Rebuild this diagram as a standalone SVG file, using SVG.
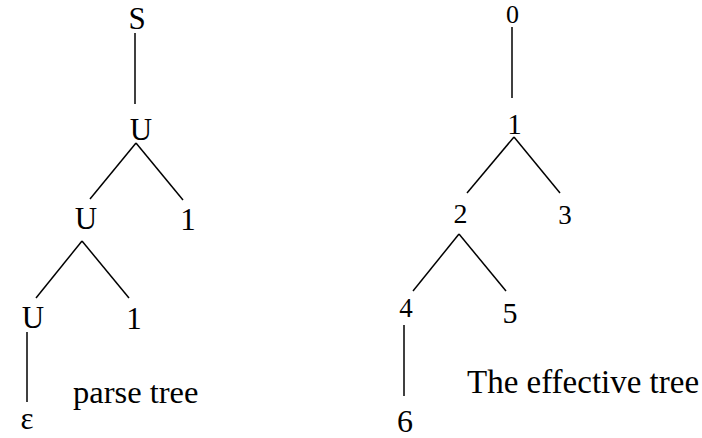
<svg xmlns="http://www.w3.org/2000/svg" width="702" height="438" viewBox="0 0 702 438">
<style>
text{font-family:"Liberation Serif","Times New Roman",Times,serif;fill:#000;}
.n{text-anchor:middle;font-size:31px;}
.d{text-anchor:middle;}
.lbl{font-size:32.5px;}
.e{stroke:#000;stroke-width:1.5;fill:none;}
</style>
<rect width="702" height="438" fill="#fff"/>
<g id="connectors">
<line class="e" x1="135" y1="33" x2="135" y2="104"/>
<line class="e" x1="136" y1="143" x2="90" y2="199"/>
<line class="e" x1="136" y1="143" x2="183" y2="200"/>
<line class="e" x1="82" y1="241" x2="36" y2="298"/>
<line class="e" x1="82" y1="241" x2="129" y2="298"/>
<line class="e" x1="27" y1="332" x2="27" y2="402"/>
<line class="e" x1="512" y1="27" x2="512" y2="98"/>
<line class="e" x1="514" y1="137" x2="467" y2="193"/>
<line class="e" x1="514" y1="137" x2="560" y2="193"/>
<line class="e" x1="459" y1="234" x2="413" y2="291"/>
<line class="e" x1="459" y1="234" x2="506" y2="291"/>
<line class="e" x1="404" y1="325" x2="404" y2="396"/>
</g>
<g id="S"><text class="n" x="137" y="29">S</text></g>
<g id="U1"><text class="n" x="141" y="140">U</text></g>
<g id="U2"><text class="n" x="86" y="229">U</text></g>
<g id="one1"><text class="n" x="188" y="230">1</text></g>
<g id="U3"><text class="n" x="33" y="328">U</text></g>
<g id="one2"><text class="n" x="134" y="329">1</text></g>
<g id="eps"><text class="n" x="27" y="429">ε</text></g>
<g id="label-parse"><text class="lbl" x="73" y="403">parse tree</text></g>
<g id="n0"><text class="d" x="512.5" y="23" style="font-size:26px">0</text></g>
<g id="n1"><text class="d" x="514.5" y="134" style="font-size:29px">1</text></g>
<g id="n2"><text class="d" x="460.5" y="223" style="font-size:28px">2</text></g>
<g id="n3"><text class="d" x="565" y="224" style="font-size:27px">3</text></g>
<g id="n4"><text class="d" x="406" y="317" style="font-size:27px">4</text></g>
<g id="n5"><text class="d" x="510" y="323" style="font-size:30px">5</text></g>
<g id="n6"><text class="d" x="405" y="432" style="font-size:32px">6</text></g>
<g id="label-effective"><text class="lbl" x="467" y="393" style="font-size:33px">The effective tree</text></g>
</svg>
